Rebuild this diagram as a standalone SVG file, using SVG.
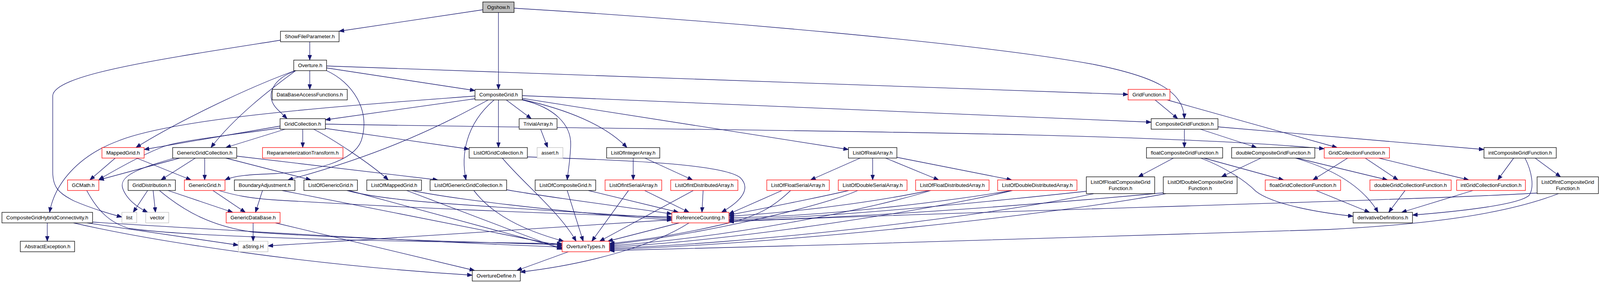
<svg xmlns="http://www.w3.org/2000/svg" width="4213" height="725" viewBox="0 0 4213 725">
<style>
.n rect{fill:#fff;stroke:#000;stroke-width:1.3}
.n.r rect{stroke:#ff0000}
.n.g rect{stroke:#bfbfbf}
.n.root rect{fill:#bfbfbf}
.n text{font-family:"Liberation Sans",Arial,Helvetica,sans-serif;font-size:13px;text-anchor:middle;fill:#000}
#edges path{fill:none;stroke:#191970;stroke-width:1.3;marker-end:url(#a)}
</style>
<defs>
<marker id="a" markerUnits="userSpaceOnUse" markerWidth="13" markerHeight="10" refX="13" refY="5" orient="auto">
<path d="M0,0 L13,5 L0,10 z" fill="#191970" stroke="#191970" stroke-width="1"/>
</marker>
</defs>
<rect width="4213" height="725" fill="#fff"/>
<g id="edges">
<path d="M1236,25 L868,80"/>
<path d="M1276,32 L1276,229"/>
<path d="M1316,21 C1800,50 2500,110 2800,165 C2950,195 3030,230 3032,304"/>
<path d="M793,107 L793,154"/>
<path d="M718,103 C420,150 140,190 135,245 L135,440 C135,480 150,495 190,515 C230,532 270,545 312,556"/>
<path d="M793,181 L793,229"/>
<path d="M836,174 L1216,232"/>
<path d="M836,169 L2888,242"/>
<path d="M758,181 C700,200 675,245 710,280 L735,304"/>
<path d="M755,181 C620,230 440,320 348,378"/>
<path d="M757,181 C690,230 600,300 540,378"/>
<path d="M836,181 C900,210 950,280 925,360 C905,415 800,440 700,445 C640,447 600,450 576,461"/>
<path d="M1216,246 C900,270 450,300 300,362 C200,400 140,470 127,544"/>
<path d="M1216,253 L833,307"/>
<path d="M1250,256 C1150,310 1000,390 737,461"/>
<path d="M1265,256 C1190,320 1180,400 1193,461"/>
<path d="M1276,256 L1276,378"/>
<path d="M1296,256 L1360,304"/>
<path d="M1337,245 L2947,313"/>
<path d="M1337,252 L2172,383"/>
<path d="M1337,255 C1450,280 1550,320 1605,378"/>
<path d="M1337,256 C1420,275 1462,320 1461,370 C1460,410 1454,440 1452,461"/>
<path d="M717,323 L369,383"/>
<path d="M717,328 C600,345 460,360 420,375 C380,390 330,415 253,460"/>
<path d="M730,331 L578,378"/>
<path d="M775,331 L775,378"/>
<path d="M803,331 C850,355 950,420 994,461"/>
<path d="M833,329 L1201,382"/>
<path d="M833,318 C1800,335 2900,335 3390,381"/>
<path d="M460,405 L253,461"/>
<path d="M446,405 C360,430 300,450 315,485 C325,510 350,530 378,544"/>
<path d="M500,405 L412,461"/>
<path d="M524,405 L524,461"/>
<path d="M578,405 L796,461"/>
<path d="M606,400 L1121,461"/>
<path d="M295,405 L230,461"/>
<path d="M350,405 L489,461"/>
<path d="M222,488 C250,540 280,570 330,585 C500,610 1100,620 1439,624"/>
<path d="M378,488 L341,544"/>
<path d="M392,488 L398,544"/>
<path d="M430,488 L596,544"/>
<path d="M408,488 C470,540 540,580 650,595 C900,612 1200,620 1439,627"/>
<path d="M545,488 L628,544"/>
<path d="M560,488 C600,500 640,508 700,512 C1000,530 1400,548 1720,556"/>
<path d="M672,488 L654,544"/>
<path d="M722,488 L1439,630"/>
<path d="M121,571 L121,618"/>
<path d="M223,571 L610,628"/>
<path d="M188,571 C400,620 800,680 1209,705"/>
<path d="M237,569 C700,597 1100,620 1439,633"/>
<path d="M648,571 L648,618"/>
<path d="M705,571 L1215,693"/>
<path d="M888,488 C950,505 1050,515 1150,522 C1400,540 1600,550 1720,560"/>
<path d="M893,488 L1439,636"/>
<path d="M1054,488 C1150,508 1400,540 1720,564"/>
<path d="M1041,488 L1439,639"/>
<path d="M1296,486 C1400,505 1600,530 1720,548"/>
<path d="M1213,488 C1260,550 1340,590 1443,618"/>
<path d="M1350,402 C1600,410 1850,420 1895,455 C1930,490 1880,525 1847,544"/>
<path d="M1286,405 C1340,470 1430,540 1475,618"/>
<path d="M1506,488 L1737,544"/>
<path d="M1452,488 L1493,618"/>
<path d="M1609,488 L1515,618"/>
<path d="M1650,488 L1764,544"/>
<path d="M1775,488 L1535,618"/>
<path d="M1800,488 L1797,544"/>
<path d="M1621,405 L1621,461"/>
<path d="M1651,405 L1773,461"/>
<path d="M2202,405 L2075,461"/>
<path d="M2234,405 L2234,461"/>
<path d="M2267,405 L2403,461"/>
<path d="M2296,403 L2590,461"/>
<path d="M2002,488 L1866,548"/>
<path d="M2024,488 C1980,530 1940,555 1850,575 C1750,598 1650,615 1560,624"/>
<path d="M2173,488 C2100,505 1950,535 1866,551"/>
<path d="M2196,488 C2100,530 1800,600 1560,627"/>
<path d="M2379,488 C2300,505 2100,540 1866,554"/>
<path d="M2383,488 C2250,530 1900,605 1560,630"/>
<path d="M2590,488 C2400,520 2100,555 1866,558"/>
<path d="M2592,488 C2400,535 1900,615 1560,633"/>
<path d="M2781,490 C2500,520 2100,560 1866,562"/>
<path d="M2800,496 C2500,560 1900,625 1560,636"/>
<path d="M2978,494 C2700,520 2200,560 1866,565"/>
<path d="M2985,496 C2700,550 2000,625 1560,639"/>
<path d="M3945,494 C3600,515 2500,540 1866,568"/>
<path d="M3990,496 C3850,550 3650,575 3400,588 C3000,605 2200,625 1560,642"/>
<path d="M1739,571 L1556,618"/>
<path d="M1764,571 C1680,625 1520,675 1332,697"/>
<path d="M1720,563 L686,630"/>
<path d="M1455,645 L1323,693"/>
<path d="M1384,331 L1402,378"/>
<path d="M2957,256 L3015,304"/>
<path d="M2988,256 L3423,378"/>
<path d="M3032,331 L3032,378"/>
<path d="M3073,331 L3217,378"/>
<path d="M3118,325 L3799,383"/>
<path d="M3004,405 L2914,453"/>
<path d="M3074,405 C3140,430 3190,465 3215,490 C3260,525 3380,545 3464,554"/>
<path d="M3082,405 L3286,461"/>
<path d="M3228,405 L3127,453"/>
<path d="M3316,405 C3420,435 3490,480 3528,544"/>
<path d="M3320,405 L3552,461"/>
<path d="M3450,405 L3361,461"/>
<path d="M3495,405 L3579,461"/>
<path d="M3530,405 L3760,461"/>
<path d="M3369,488 L3506,544"/>
<path d="M3597,488 L3555,544"/>
<path d="M3771,488 L3588,544"/>
<path d="M3875,405 L3834,461"/>
<path d="M3930,405 L3995,453"/>
<path d="M3904,405 C3922,440 3928,480 3915,500 C3890,525 3730,542 3616,551"/>
</g>
<g id="n_ogshow" class="n root"><rect x="1236" y="5" width="80" height="27"/><text x="1276" y="23" textLength="58" lengthAdjust="spacingAndGlyphs">Ogshow.h</text></g>
<g id="n_showfileparameter" class="n"><rect x="718" y="80" width="150" height="27"/><text x="793" y="98" textLength="128" lengthAdjust="spacingAndGlyphs">ShowFileParameter.h</text></g>
<g id="n_overture" class="n"><rect x="752" y="154" width="84" height="27"/><text x="794" y="172" textLength="62" lengthAdjust="spacingAndGlyphs">Overture.h</text></g>
<g id="n_databaseaccessfunctions" class="n"><rect x="697" y="229" width="192" height="27"/><text x="793" y="247" textLength="170" lengthAdjust="spacingAndGlyphs">DataBaseAccessFunctions.h</text></g>
<g id="n_compositegrid" class="n"><rect x="1216" y="229" width="121" height="27"/><text x="1276.5" y="247" textLength="99" lengthAdjust="spacingAndGlyphs">CompositeGrid.h</text></g>
<g id="n_gridfunction" class="n r"><rect x="2888" y="229" width="107" height="27"/><text x="2941.5" y="247" textLength="85" lengthAdjust="spacingAndGlyphs">GridFunction.h</text></g>
<g id="n_gridcollection" class="n"><rect x="717" y="304" width="116" height="27"/><text x="775" y="322" textLength="94" lengthAdjust="spacingAndGlyphs">GridCollection.h</text></g>
<g id="n_trivialarray" class="n"><rect x="1329" y="304" width="97" height="27"/><text x="1377.5" y="322" textLength="75" lengthAdjust="spacingAndGlyphs">TrivialArray.h</text></g>
<g id="n_compositegridfunction" class="n"><rect x="2947" y="304" width="171" height="27"/><text x="3032.5" y="322" textLength="149" lengthAdjust="spacingAndGlyphs">CompositeGridFunction.h</text></g>
<g id="n_mappedgrid" class="n r"><rect x="261" y="378" width="108" height="27"/><text x="315" y="396" textLength="86" lengthAdjust="spacingAndGlyphs">MappedGrid.h</text></g>
<g id="n_genericgridcollection" class="n"><rect x="442" y="378" width="164" height="27"/><text x="524" y="396" textLength="142" lengthAdjust="spacingAndGlyphs">GenericGridCollection.h</text></g>
<g id="n_reparameterizationtransform" class="n r"><rect x="672" y="378" width="206" height="27"/><text x="775" y="396" textLength="184" lengthAdjust="spacingAndGlyphs">ReparameterizationTransform.h</text></g>
<g id="n_listofgridcollection" class="n"><rect x="1201" y="378" width="149" height="27"/><text x="1275.5" y="396" textLength="127" lengthAdjust="spacingAndGlyphs">ListOfGridCollection.h</text></g>
<g id="n_assert" class="n g"><rect x="1375" y="378" width="66" height="27"/><text x="1408" y="396" textLength="44" lengthAdjust="spacingAndGlyphs">assert.h</text></g>
<g id="n_listofintegerarray" class="n"><rect x="1553" y="378" width="136" height="27"/><text x="1621" y="396" textLength="114" lengthAdjust="spacingAndGlyphs">ListOfIntegerArray.h</text></g>
<g id="n_listofrealarray" class="n"><rect x="2172" y="378" width="124" height="27"/><text x="2234" y="396" textLength="102" lengthAdjust="spacingAndGlyphs">ListOfRealArray.h</text></g>
<g id="n_floatcompositegridfunction" class="n"><rect x="2935" y="378" width="195" height="27"/><text x="3032.5" y="396" textLength="173" lengthAdjust="spacingAndGlyphs">floatCompositeGridFunction.h</text></g>
<g id="n_doublecompositegridfunction" class="n"><rect x="3153" y="378" width="213" height="27"/><text x="3259.5" y="396" textLength="191" lengthAdjust="spacingAndGlyphs">doubleCompositeGridFunction.h</text></g>
<g id="n_gridcollectionfunction" class="n r"><rect x="3390" y="378" width="167" height="27"/><text x="3473.5" y="396" textLength="145" lengthAdjust="spacingAndGlyphs">GridCollectionFunction.h</text></g>
<g id="n_intcompositegridfunction" class="n"><rect x="3799" y="378" width="185" height="27"/><text x="3891.5" y="396" textLength="163" lengthAdjust="spacingAndGlyphs">intCompositeGridFunction.h</text></g>
<g id="n_gcmath" class="n r"><rect x="173" y="461" width="80" height="27"/><text x="213" y="479" textLength="58" lengthAdjust="spacingAndGlyphs">GCMath.h</text></g>
<g id="n_griddistribution" class="n"><rect x="328" y="461" width="121" height="27"/><text x="388.5" y="479" textLength="99" lengthAdjust="spacingAndGlyphs">GridDistribution.h</text></g>
<g id="n_genericgrid" class="n r"><rect x="472" y="461" width="104" height="27"/><text x="524" y="479" textLength="82" lengthAdjust="spacingAndGlyphs">GenericGrid.h</text></g>
<g id="n_boundaryadjustment" class="n"><rect x="600" y="461" width="155" height="27"/><text x="677.5" y="479" textLength="133" lengthAdjust="spacingAndGlyphs">BoundaryAdjustment.h</text></g>
<g id="n_listofgenericgrid" class="n"><rect x="778" y="461" width="137" height="27"/><text x="846.5" y="479" textLength="115" lengthAdjust="spacingAndGlyphs">ListOfGenericGrid.h</text></g>
<g id="n_listofmappedgrid" class="n"><rect x="939" y="461" width="140" height="27"/><text x="1009" y="479" textLength="118" lengthAdjust="spacingAndGlyphs">ListOfMappedGrid.h</text></g>
<g id="n_listofgenericgridcollection" class="n"><rect x="1101" y="461" width="196" height="27"/><text x="1199" y="479" textLength="174" lengthAdjust="spacingAndGlyphs">ListOfGenericGridCollection.h</text></g>
<g id="n_listofcompositegrid" class="n"><rect x="1370" y="461" width="155" height="27"/><text x="1447.5" y="479" textLength="133" lengthAdjust="spacingAndGlyphs">ListOfCompositeGrid.h</text></g>
<g id="n_listofintserialarray" class="n r"><rect x="1549" y="461" width="145" height="27"/><text x="1621.5" y="479" textLength="123" lengthAdjust="spacingAndGlyphs">ListOfIntSerialArray.h</text></g>
<g id="n_listofintdistributedarray" class="n r"><rect x="1717" y="461" width="172" height="27"/><text x="1803" y="479" textLength="150" lengthAdjust="spacingAndGlyphs">ListOfIntDistributedArray.h</text></g>
<g id="n_listoffloatserialarray" class="n r"><rect x="1963" y="461" width="160" height="27"/><text x="2043" y="479" textLength="138" lengthAdjust="spacingAndGlyphs">ListOfFloatSerialArray.h</text></g>
<g id="n_listofdoubleserialarray" class="n r"><rect x="2146" y="461" width="176" height="27"/><text x="2234" y="479" textLength="154" lengthAdjust="spacingAndGlyphs">ListOfDoubleSerialArray.h</text></g>
<g id="n_listoffloatdistributedarray" class="n r"><rect x="2344" y="461" width="188" height="27"/><text x="2438" y="479" textLength="166" lengthAdjust="spacingAndGlyphs">ListOfFloatDistributedArray.h</text></g>
<g id="n_listofdoubledistributedarray" class="n r"><rect x="2554" y="461" width="203" height="27"/><text x="2655.5" y="479" textLength="181" lengthAdjust="spacingAndGlyphs">ListOfDoubleDistributedArray.h</text></g>
<g id="n_listoffloatcompositegridfunction" class="n"><rect x="2781" y="453" width="175" height="43"/><text x="2868.5" y="471" textLength="153" lengthAdjust="spacingAndGlyphs">ListOfFloatCompositeGrid</text><text x="2868.5" y="487">Function.h</text></g>
<g id="n_listofdoublecompositegridfunction" class="n"><rect x="2978" y="453" width="189" height="43"/><text x="3072.5" y="471" textLength="167" lengthAdjust="spacingAndGlyphs">ListOfDoubleCompositeGrid</text><text x="3072.5" y="487">Function.h</text></g>
<g id="n_floatgridcollectionfunction" class="n r"><rect x="3239" y="461" width="193" height="27"/><text x="3335.5" y="479" textLength="171" lengthAdjust="spacingAndGlyphs">floatGridCollectionFunction.h</text></g>
<g id="n_doublegridcollectionfunction" class="n r"><rect x="3507" y="461" width="208" height="27"/><text x="3611" y="479" textLength="186" lengthAdjust="spacingAndGlyphs">doubleGridCollectionFunction.h</text></g>
<g id="n_intgridcollectionfunction" class="n r"><rect x="3729" y="461" width="176" height="27"/><text x="3817" y="479" textLength="156" lengthAdjust="spacingAndGlyphs">intGridCollectionFunction.h</text></g>
<g id="n_listofintcompositegridfunction" class="n"><rect x="3935" y="453" width="157" height="43"/><text x="4013.5" y="471" textLength="135" lengthAdjust="spacingAndGlyphs">ListOfIntCompositeGrid</text><text x="4013.5" y="487">Function.h</text></g>
<g id="n_compositegridhybridconnectivity" class="n"><rect x="5" y="544" width="232" height="27"/><text x="121" y="562" textLength="210" lengthAdjust="spacingAndGlyphs">CompositeGridHybridConnectivity.h</text></g>
<g id="n_list" class="n g"><rect x="312" y="544" width="38" height="27"/><text x="331" y="562" textLength="16" lengthAdjust="spacingAndGlyphs">list</text></g>
<g id="n_vector" class="n g"><rect x="373" y="544" width="59" height="27"/><text x="402.5" y="562" textLength="37" lengthAdjust="spacingAndGlyphs">vector</text></g>
<g id="n_genericdatabase" class="n r"><rect x="579" y="544" width="138" height="27"/><text x="648" y="562" textLength="116" lengthAdjust="spacingAndGlyphs">GenericDataBase.h</text></g>
<g id="n_referencecounting" class="n r"><rect x="1720" y="544" width="146" height="27"/><text x="1793" y="562" textLength="124" lengthAdjust="spacingAndGlyphs">ReferenceCounting.h</text></g>
<g id="n_derivativedefinitions" class="n"><rect x="3464" y="544" width="152" height="27"/><text x="3540" y="562" textLength="130" lengthAdjust="spacingAndGlyphs">derivativeDefinitions.h</text></g>
<g id="n_abstractexception" class="n"><rect x="52" y="618" width="139" height="27"/><text x="121.5" y="636" textLength="117" lengthAdjust="spacingAndGlyphs">AbstractException.h</text></g>
<g id="n_astring" class="n g"><rect x="610" y="618" width="76" height="27"/><text x="648" y="636" textLength="54" lengthAdjust="spacingAndGlyphs">aString.H</text></g>
<g id="n_overturetypes" class="n r"><rect x="1439" y="618" width="121" height="27"/><text x="1499.5" y="636" textLength="99" lengthAdjust="spacingAndGlyphs">OvertureTypes.h</text></g>
<g id="n_overturedefine" class="n"><rect x="1209" y="693" width="123" height="27"/><text x="1270.5" y="711" textLength="101" lengthAdjust="spacingAndGlyphs">OvertureDefine.h</text></g>
</svg>
